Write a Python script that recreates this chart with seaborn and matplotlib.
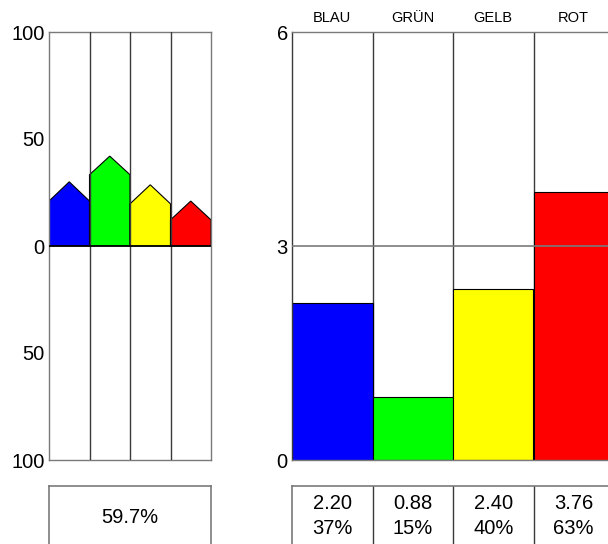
import matplotlib
matplotlib.use("Agg")
import matplotlib.pyplot as plt
import seaborn as sns
import pandas as pd
import numpy as np

sns.set_theme(style="white")
plt.rcParams["font.family"] = ["Liberation Sans", "DejaVu Sans"]
plt.rcParams["text.color"] = "black"
plt.rcParams["xtick.color"] = "black"
plt.rcParams["ytick.color"] = "black"

# colour names and their fills
colors = ["BLAU", "GRÜN", "GELB", "ROT"]
fills = ["#0000ff", "#00ff00", "#ffff00", "#ff0000"]

# left panel: house-shaped marks (shoulder height and roof peak)
shoulder = [21.0, 33.3, 19.7, 12.2]
peak = [30.0, 42.0, 28.6, 21.0]
left_total = "59.7%"
left_ticks = [100, 50, 0, -50, -100]
left_ticklabels = ["100", "50", "0", "50", "100"]

# right panel: bar values on a 0..6 scale
values = [2.20, 0.88, 2.40, 3.76]
scale_max = 6
right_ticks = [0, 3, 6]

line_c = "#3a3a3a"
grid_c = "#7a7a7a"
fs = 14.5

fig = plt.figure(figsize=(6.08, 5.44), dpi=100)

# ---------------- left panel ----------------
axL = fig.add_axes([49 / 608, 84 / 544, 162 / 608, 428 / 544])
n = len(colors)
for i in range(n):
    xs = [i, i, i + 0.5, i + 1, i + 1]
    ys = [0, shoulder[i], peak[i], shoulder[i], 0]
    axL.fill(xs, ys, facecolor=fills[i], edgecolor="black", linewidth=0.8, zorder=2)
for i in range(1, n):
    axL.axvline(i, color=line_c, linewidth=1, zorder=3)
axL.axhline(0, color="black", linewidth=1.2, zorder=3)
axL.set_xlim(0, n)
axL.set_ylim(-100, 100)
axL.set_xticks([])
axL.set_yticks(left_ticks)
axL.set_yticklabels(left_ticklabels, fontsize=fs)
axL.tick_params(axis="y", length=0, pad=3, labelcolor="black")
for s in axL.spines.values():
    s.set_color(grid_c)
    s.set_linewidth(1)

# left summary box
boxL = fig.add_axes([49 / 608, -8 / 544, 162 / 608, 66 / 544])
boxL.set_xticks([])
boxL.set_yticks([])
for s in boxL.spines.values():
    s.set_color(grid_c)
    s.set_linewidth(1.2)
boxL.text(0.5, 0.53, left_total, ha="center", va="center", fontsize=fs,
          transform=boxL.transAxes)

# ---------------- right panel ----------------
axR = fig.add_axes([292 / 608, 84 / 544, 322 / 608, 428 / 544])
df = pd.DataFrame({"farbe": colors, "wert": values})
sns.barplot(data=df, x="farbe", y="wert", hue="farbe", palette=fills,
            saturation=1, width=1.0, edgecolor="black", linewidth=0.8,
            legend=False, ax=axR, zorder=2)
for i in range(1, n):
    axR.axvline(i - 0.5, color=line_c, linewidth=1, zorder=1)
axR.axhline(3, color=grid_c, linewidth=1.2, zorder=3)
axR.set_xlim(-0.5, n - 0.5)
axR.set_ylim(0, scale_max)
axR.set_yticks(right_ticks)
axR.set_yticklabels([str(t) for t in right_ticks], fontsize=fs)
axR.tick_params(axis="y", length=0, pad=3, labelcolor="black")
axR.xaxis.set_ticks_position("top")
axR.xaxis.set_label_position("top")
axR.set_xticks(range(n))
axR.set_xticklabels(colors, fontsize=10.5)
axR.tick_params(axis="x", length=0, pad=5, labelcolor="black")
axR.set_xlabel("")
axR.set_ylabel("")
for s in axR.spines.values():
    s.set_color(grid_c)
    s.set_linewidth(1)
axR.spines["left"].set_color(line_c)

# right value table
boxR = fig.add_axes([292 / 608, -8 / 544, 322 / 608, 66 / 544])
boxR.set_xlim(-0.5, n - 0.5)
boxR.set_ylim(0, 1)
boxR.set_xticks([])
boxR.set_yticks([])
for s in boxR.spines.values():
    s.set_color(grid_c)
    s.set_linewidth(1.2)
for i in range(1, n):
    boxR.axvline(i - 0.5, color=line_c, linewidth=1)
for i, v in enumerate(values):
    pct = round(v / scale_max * 100)
    boxR.text(i, 0.74, f"{v:.2f}", ha="center", va="center", fontsize=fs)
    boxR.text(i, 0.36, f"{pct}%", ha="center", va="center", fontsize=fs)

fig.savefig("out.png", dpi=100)
